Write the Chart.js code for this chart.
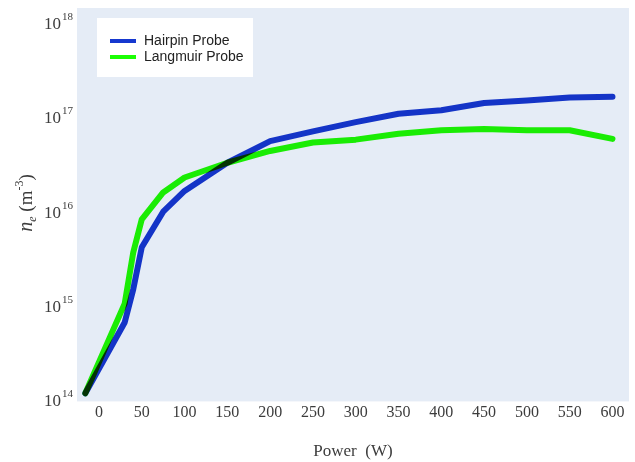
<!DOCTYPE html>
<html>
<head>
<meta charset="utf-8">
<script src="https://cdn.jsdelivr.net/npm/chart.js@4"></script>
<style>
  html, body { margin: 0; padding: 0; background: #ffffff; }
  #c { display: block; }
</style>
</head>
<body>
<canvas id="c" width="635" height="462" style="width:635px;height:462px"></canvas>
<script>
// ---- data ----
const powerW = [-16, 30, 40, 50, 75, 100, 150, 200, 250, 300, 350, 400, 450, 500, 550, 600];
const hairpinDensity = [1.19e14, 6.7e14, 1.5e15, 4.2e15, 1.0e16, 1.66e16, 3.3e16, 5.6e16, 7.1e16, 8.9e16, 1.09e17, 1.19e17, 1.42e17, 1.51e17, 1.62e17, 1.65e17];
const langmuirDensity = [1.19e14, 1.06e15, 3.7e15, 8.3e15, 1.6e16, 2.3e16, 3.3e16, 4.4e16, 5.4e16, 5.8e16, 6.7e16, 7.3e16, 7.5e16, 7.3e16, 7.3e16, 5.9e16];
const seriesLabels = ['Hairpin Probe', 'Langmuir Probe'];
const xTickValues = [0, 50, 100, 150, 200, 250, 300, 350, 400, 450, 500, 550, 600];
const yTickExponents = [14, 15, 16, 17, 18];
const xTitle = 'Power  (W)';

// ---- styling ----
const SERIF = "'Liberation Serif', 'Times New Roman', Times, serif";
const SANS = "'Liberation Sans', Arial, Helvetica, sans-serif";
const TEXT = '#3c3c3c';
const colors = ['#1638cf', '#1cff04'];

const decor = {
  id: 'decor',
  beforeDraw(chart) {
    const { ctx, chartArea: a } = chart;
    ctx.save();
    ctx.fillStyle = '#e5ecf6';
    ctx.fillRect(a.left, a.top, a.right - a.left, a.bottom - a.top);
    ctx.restore();
  },
  beforeDatasetsDraw(chart) {
    chart.ctx.save();
    chart.ctx.globalCompositeOperation = 'multiply';
  },
  afterDatasetsDraw(chart) {
    chart.ctx.restore();
  },
  afterDraw(chart) {
    const { ctx, chartArea: a } = chart;
    const ys = chart.scales.y;
    ctx.save();
    // y tick labels 10^n
    ctx.fillStyle = TEXT;
    ctx.textBaseline = 'alphabetic';
    ctx.textAlign = 'left';
    const right = a.left - 4;
    for (const e of yTickExponents) {
      const py = ys.getPixelForValue(Math.pow(10, e));
      ctx.font = '11px ' + SERIF;
      const es = String(e);
      const ew = ctx.measureText(es).width;
      ctx.fillText(es, right - ew, py - 3);
      ctx.font = '17px ' + SERIF;
      const bw = ctx.measureText('10').width;
      ctx.fillText('10', right - ew - 1 - bw, py + 6);
    }
    // y axis title: n_e (m^-3)
    const parts = [
      { t: 'n', f: 'italic 20px ' + SERIF, dy: 0 },
      { t: 'e', f: 'italic 12px ' + SERIF, dy: 4 },
      { t: ' (m', f: '19px ' + SERIF, dy: 0 },
      { t: '-3', f: '12px ' + SERIF, dy: -9 },
      { t: ')', f: '19px ' + SERIF, dy: 0 }
    ];
    let total = 0;
    for (const p of parts) { ctx.font = p.f; p.w = ctx.measureText(p.t).width; total += p.w; }
    ctx.translate(27, 203);
    ctx.rotate(-Math.PI / 2);
    let x = -total / 2;
    for (const p of parts) {
      ctx.font = p.f;
      ctx.fillText(p.t, x, 5 + p.dy);
      x += p.w;
    }
    ctx.restore();

    // legend
    ctx.save();
    const lx = a.left + 20, ly = a.top + 10;
    ctx.fillStyle = '#ffffff';
    ctx.fillRect(lx, ly, 156, 59);
    chart.data.datasets.forEach((ds, i) => {
      const yy = ly + 23 + i * 16;
      ctx.strokeStyle = ds.borderColor;
      ctx.lineWidth = 4;
      ctx.lineCap = 'butt';
      ctx.beginPath();
      ctx.moveTo(lx + 13, yy);
      ctx.lineTo(lx + 39, yy);
      ctx.stroke();
      ctx.fillStyle = '#222222';
      ctx.font = '14px ' + SANS;
      ctx.textBaseline = 'middle';
      ctx.textAlign = 'left';
      ctx.fillText(ds.label, lx + 47, yy + 0.5);
    });
    ctx.restore();
  }
};

const toPoints = (xs, ys) => xs.map((x, i) => ({ x: x, y: ys[i] }));

new Chart(document.getElementById('c'), {
  type: 'line',
  data: {
    datasets: [
      {
        label: seriesLabels[0],
        data: toPoints(powerW, hairpinDensity),
        borderColor: colors[0],
        borderWidth: 6,
        borderCapStyle: 'round',
        borderJoinStyle: 'round',
        pointRadius: 0,
        fill: false,
        tension: 0
      },
      {
        label: seriesLabels[1],
        data: toPoints(powerW, langmuirDensity),
        borderColor: colors[1],
        borderWidth: 6,
        borderCapStyle: 'round',
        borderJoinStyle: 'round',
        pointRadius: 0,
        fill: false,
        tension: 0
      }
    ]
  },
  options: {
    responsive: false,
    animation: false,
    devicePixelRatio: 1,
    layout: { padding: { left: 77, right: 6, top: 8, bottom: 0 } },
    plugins: { legend: { display: false }, tooltip: { enabled: false } },
    scales: {
      x: {
        type: 'linear',
        min: -25.7,
        max: 619.3,
        afterBuildTicks: (s) => { s.ticks = xTickValues.map(v => ({ value: v })); },
        grid: { display: false, drawTicks: false, tickLength: 0 },
        border: { display: false },
        ticks: {
          color: TEXT,
          font: { family: SERIF, size: 16 },
          padding: 2,
          maxRotation: 0,
          autoSkip: false
        },
        title: {
          display: true,
          text: xTitle,
          color: TEXT,
          font: { family: SERIF, size: 17 },
          padding: { top: 17, bottom: 0 }
        }
      },
      y: {
        type: 'logarithmic',
        display: false,
        min: 0.976e14,
        max: 1.44e18
      }
    }
  },
  plugins: [decor]
});
</script>
</body>
</html>
